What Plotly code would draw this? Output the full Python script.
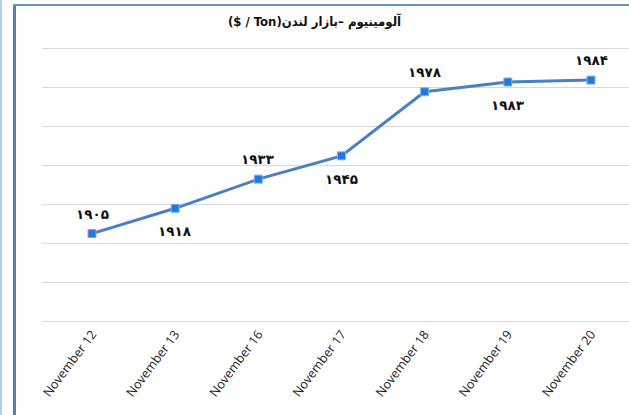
import plotly.graph_objects as go

categories = ["November 12", "November 13", "November 16", "November 17",
              "November 18", "November 19", "November 20"]
values = [1905, 1918, 1933, 1945, 1978, 1983, 1984]
label_side = ["top", "bottom", "top", "bottom", "top", "bottom", "top"]
y_range = [1860, 2000]
y_dtick = 20
title_text = "\u202Bآلومینیوم –بازار لندن\u202A($ / Ton)\u202C\u202C"

W, H = 629, 415
L, R, T, B = 42, 0, 49, 94
PW, PH = W - L - R, H - T - B

def px_x(p):
    return (p - L) / PW

def px_y(p):
    return (H - B - p) / PH

persian = str.maketrans("0123456789", "۰۱۲۳۴۵۶۷۸۹")

marker_edges = ["#d98a8a"] + ["#7fb0ea"] * (len(values) - 1)

fig = go.Figure()
fig.add_trace(go.Scatter(
    x=categories, y=values, mode="lines+markers",
    line=dict(color="#4a7fc1", width=3),
    marker=dict(symbol="square", size=8, color="#1e7ae0",
                line=dict(color=marker_edges, width=1)),
    hoverinfo="x+y", showlegend=False, cliponaxis=False,
))

annotations = []
for c, v, s in zip(categories, values, label_side):
    annotations.append(dict(
        x=c, y=v, xref="x", yref="y", text=str(v).translate(persian),
        showarrow=False, yshift=20 if s == "top" else -23,
        font=dict(family="DejaVu Sans", size=13.5, color="#111111", weight="bold"),
    ))

shapes = [
    dict(type="line", xref="paper", yref="paper",
         x0=px_x(1), x1=px_x(1), y0=px_y(0), y1=px_y(H),
         line=dict(color="#b5cdea", width=2)),
    dict(type="line", xref="paper", yref="paper",
         x0=px_x(14.5), x1=px_x(14.5), y0=px_y(5), y1=px_y(H + 5),
         line=dict(color="#4f7fbf", width=3)),
    dict(type="line", xref="paper", yref="paper",
         x0=px_x(13), x1=px_x(W + 5), y0=px_y(5), y1=px_y(5),
         line=dict(color="#6a92c8", width=2)),
]

fig.update_layout(
    width=W, height=H,
    margin=dict(l=L, r=R, t=T, b=B, autoexpand=False),
    paper_bgcolor="white", plot_bgcolor="white",
    title=dict(text=title_text, x=0.5, xref="container", xanchor="center",
               y=1 - 21 / H, yref="container", yanchor="middle",
               font=dict(family="DejaVu Sans Condensed", size=13, color="#111111", weight="bold")),
    xaxis=dict(type="category", range=[-(92 - L) / (499 / 6), 6 + (W - 591) / (499 / 6)],
               showgrid=False, zeroline=False, automargin=False,
               showline=True, mirror=True, linecolor="#d9d9d9", linewidth=1,
               tickangle=-53, ticks="",
               tickfont=dict(family="Open Sans", size=12.5, color="#222222")),
    yaxis=dict(range=y_range, dtick=y_dtick, tick0=0,
               showgrid=True, gridcolor="#d9d9d9", automargin=False, showline=False,
               gridwidth=1, zeroline=False, showticklabels=False, ticks=""),
    annotations=annotations,
    shapes=shapes,
)

fig.write_html("out.html", config={"displayModeBar": False},
               post_script="document.body.style.margin='0';document.body.style.padding='0';")
